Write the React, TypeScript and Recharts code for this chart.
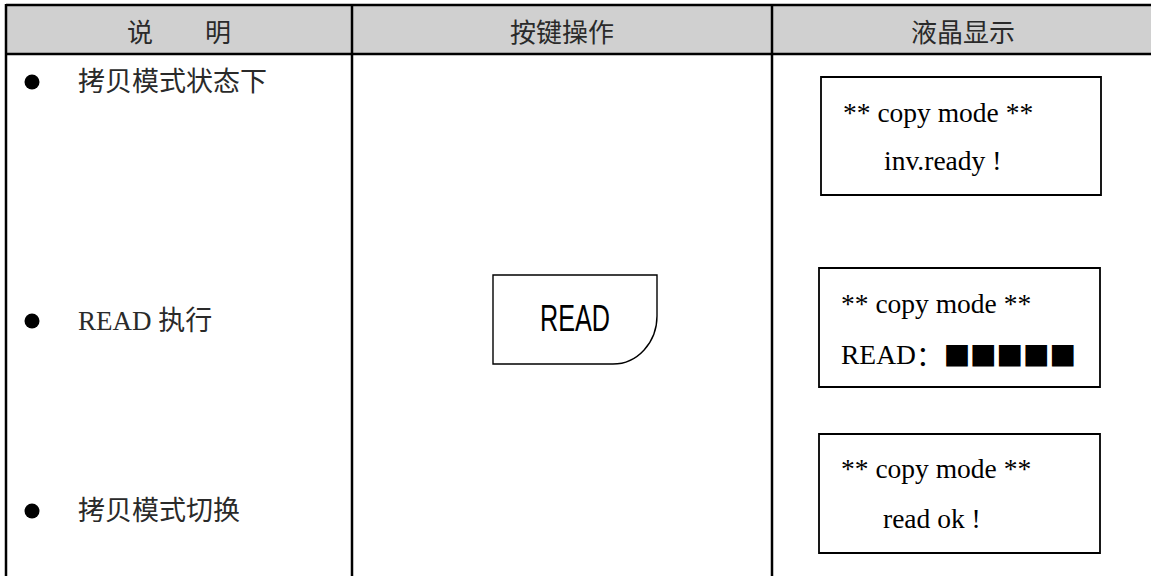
import { ScatterChart, Scatter, XAxis, YAxis, ReferenceArea, ReferenceLine } from "recharts"

// table content
const headers = ["说\u3000\u3000明", "按键操作", "液晶显示"]
const steps = ["拷贝模式状态下", "READ 执行", "拷贝模式切换"]
const keyName = "READ"
const lcdTop = ["** copy mode **", "** copy mode **", "** copy mode **"]
const lcdBottom = ["inv.ready !", "READ：■■■■■", "read ok !"]

// layout, in axis units (1 unit = 1px)
const W = 1151
const H = 576
const colEdges = [6, 352, 772]
const headTop = 5
const headBottom = 54
const headerX = [179, 562, 963]
const stepY = [82, 321, 511]
const lcdBoxes = [
  { x1: 821, x2: 1101, y1: 77, y2: 195 },
  { x1: 819, x2: 1100, y1: 268, y2: 387 },
  { x1: 819, x2: 1100, y1: 434, y2: 553 },
]
const lcdTopX = [843, 841, 841]
const lcdBottomX = [884, 841, 883]
const lcdTopDy = [35, 35, 34]
const lcdBottomDy = [83, 86, 84]
const key = { x1: 493, x2: 657, y1: 275, y2: 364 }

const CJK = "'Noto Sans CJK SC', sans-serif"
const SERIF = "'Liberation Serif', 'Noto Sans CJK SC', serif"

const headerPts = headers.map((label, i) => ({ x: headerX[i], y: (headTop + headBottom) / 2 + 1, label }))
const stepPts = steps.map((label, i) => ({ x: 32, y: stepY[i], label }))
const lcdPts = lcdBoxes.flatMap((b, i) => [
  { x: lcdTopX[i], y: b.y1 + lcdTopDy[i], label: lcdTop[i] },
  { x: lcdBottomX[i], y: b.y1 + lcdBottomDy[i], label: lcdBottom[i] },
])

function HeaderText(p: any) {
  return (
    <text x={p.cx} y={p.cy} textAnchor="middle" dominantBaseline="central" fontSize={26} fontFamily={CJK} fill="#2a2a2a">
      {p.payload.label}
    </text>
  )
}

function StepRow(p: any) {
  return (
    <g>
      <circle cx={p.cx} cy={p.cy} r={7.5} fill="#000" />
      <text x={p.cx + 46} y={p.cy} dominantBaseline="central" fontSize={27} fontFamily={SERIF} fill="#2a2a2a">
        {p.payload.label}
      </text>
    </g>
  )
}

function LcdLine(p: any) {
  const label: string = p.payload.label
  const idx = label.indexOf("：")
  if (idx < 0) {
    return (
      <text x={p.cx} y={p.cy} dominantBaseline="central" fontSize={27.5} fontFamily={SERIF} fill="#000">
        {label}
      </text>
    )
  }
  return (
    <text x={p.cx} y={p.cy} dominantBaseline="central" fontSize={27.5} fontFamily={SERIF} fill="#000">
      {label.slice(0, idx)}
      <tspan fontFamily={CJK}>{label.slice(idx, idx + 1)}</tspan>
      <tspan fontFamily={CJK} fontSize={27} letterSpacing={-0.5}>{label.slice(idx + 1)}</tspan>
    </text>
  )
}

function KeyShape(p: any) {
  const { x, y, width, height } = p
  const rx = 44
  const ry = 48
  const d = `M${x},${y} H${x + width} V${y + height - ry} A${rx},${ry} 0 0 1 ${x + width - rx},${y + height} H${x} Z`
  return (
    <g>
      <path d={d} fill="#fff" stroke="#000" strokeWidth={1.4} />
      <text
        x={x + width / 2}
        y={y + height / 2 - 1}
        textAnchor="middle"
        dominantBaseline="central"
        fontSize={37}
        fontFamily="'Liberation Sans Narrow', 'Liberation Sans', sans-serif"
        textLength={70}
        lengthAdjust="spacingAndGlyphs"
        fill="#000"
      >
        {keyName}
      </text>
    </g>
  )
}

export default function App() {
  return (
    <div style={{ position: "absolute", left: 0, top: 0, background: "#fff" }}>
      <ScatterChart width={W} height={H} margin={{ top: 0, right: 0, bottom: 0, left: 0 }}>
        <XAxis type="number" dataKey="x" domain={[0, W]} hide />
        <YAxis type="number" dataKey="y" domain={[0, H]} reversed hide />

        {/* header band */}
        <ReferenceArea x1={colEdges[0]} x2={W} y1={headTop} y2={headBottom} fill="#d0d0d0" fillOpacity={1} stroke="none" />
        <ReferenceLine segment={[{ x: colEdges[0], y: headTop }, { x: W, y: headTop }]} stroke="#000" strokeWidth={2.5} />
        <ReferenceLine segment={[{ x: colEdges[0], y: headBottom }, { x: W, y: headBottom }]} stroke="#000" strokeWidth={2.5} />
        {colEdges.map((cx) => (
          <ReferenceLine key={cx} segment={[{ x: cx, y: headTop - 1 }, { x: cx, y: H }]} stroke="#000" strokeWidth={2.5} />
        ))}

        {/* LCD boxes */}
        {lcdBoxes.map((b, i) => (
          <ReferenceArea key={i} x1={b.x1} x2={b.x2} y1={b.y1} y2={b.y2} fill="#fff" fillOpacity={1} stroke="#000" strokeWidth={1.8} />
        ))}

        {/* key */}
        <ReferenceArea x1={key.x1} x2={key.x2} y1={key.y1} y2={key.y2} shape={KeyShape} />

        <Scatter data={headerPts} shape={HeaderText} isAnimationActive={false} />
        <Scatter data={stepPts} shape={StepRow} isAnimationActive={false} />
        <Scatter data={lcdPts} shape={LcdLine} isAnimationActive={false} />
      </ScatterChart>
    </div>
  )
}
